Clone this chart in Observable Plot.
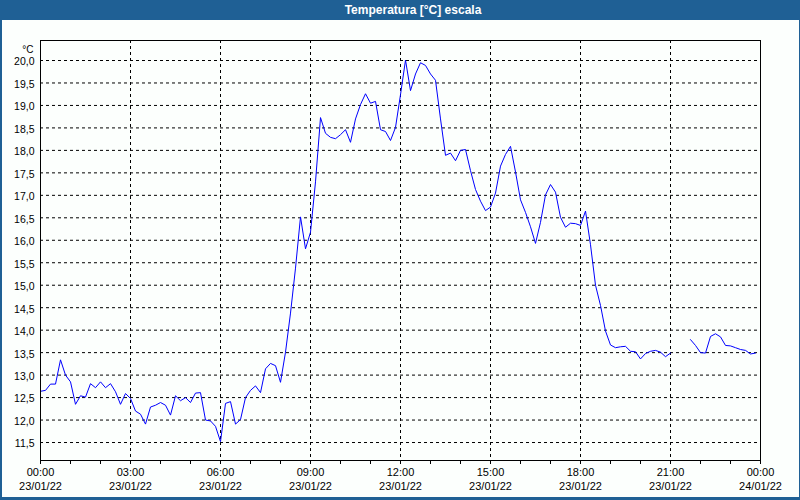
<!DOCTYPE html>
<html>
<head>
<meta charset="utf-8">
<script src="https://cdn.jsdelivr.net/npm/d3@7"></script>
<script src="https://cdn.jsdelivr.net/npm/@observablehq/plot@0.6"></script>
<style>
  html, body { margin: 0; padding: 0; background: #fcfffd; }
  #win { position: relative; width: 800px; height: 500px; background: #fcfffd; overflow: hidden; font-family: "Liberation Sans", Arial, sans-serif; }
  #titlebar { position: absolute; left: 0; top: 0; width: 800px; height: 20px; background: #1f6095; }
  #title { position: absolute; left: 413px; top: 3px; transform: translateX(-50%); color: #ffffff; font-weight: bold; font-size: 12px; white-space: nowrap; font-family: "Liberation Sans", Arial, sans-serif; }
  #chart { position: absolute; left: 0; top: 20px; }
  .bd { position: absolute; background: #1f6095; }
</style>
</head>
<body>
<div id="win">
  <div id="titlebar"><div id="title">Temperatura [°C] escala</div></div>
  <div id="chart"></div>
  <div class="bd" style="left:0;top:20px;width:2px;height:480px"></div>
  <div class="bd" style="right:0;top:20px;width:1px;height:480px"></div>
  <div class="bd" style="left:0;bottom:0;width:800px;height:3px"></div>
</div>
<script>
// ---- data (10-minute samples starting 23/01/22 00:00) ----
const startTime = Date.UTC(2022, 0, 23, 0, 0);
const stepMinutes = 10;
const temperature = [
  12.64, 12.66, 12.80, 12.80, 13.34, 13.00, 12.85, 12.35, 12.54, 12.51,
  12.81, 12.72, 12.85, 12.72, 12.81, 12.63, 12.35, 12.59, 12.48, 12.20,
  12.13, 11.91, 12.29, 12.33, 12.39, 12.33, 12.11, 12.54, 12.43, 12.50,
  12.39, 12.60, 12.61, 12.00, 11.98, 11.86, 11.52, 12.37, 12.41, 11.91,
  12.01, 12.50, 12.66, 12.76, 12.61, 13.14, 13.26, 13.21, 12.84, 13.51,
  14.38, 15.38, 16.52, 15.81, 16.18, 17.30, 18.73, 18.38, 18.29, 18.26,
  18.35, 18.46, 18.18, 18.70, 19.02, 19.26, 19.05, 19.09, 18.46, 18.42,
  18.22, 18.51, 19.24, 20.01, 19.33, 19.70, 19.95, 19.89, 19.70, 19.56,
  18.70, 17.89, 17.94, 17.77, 18.00, 18.02, 17.55, 17.13, 16.87, 16.66,
  16.74, 17.05, 17.65, 17.91, 18.09, 17.52, 16.90, 16.62, 16.30, 15.93,
  16.40, 17.01, 17.24, 17.07, 16.51, 16.29, 16.38, 16.37, 16.33, 16.65,
  15.90, 15.00, 14.55, 13.98, 13.67, 13.61, 13.63, 13.64, 13.53, 13.52,
  13.36, 13.48, 13.53, 13.55, 13.51, 13.41, 13.49, null, null, null,
  13.79, 13.66, 13.50, 13.49, 13.86, 13.92, 13.85, 13.66, 13.65, 13.61,
  13.57, 13.55, 13.47, 13.49
];

// ---- axes ----
const yTicks = [11.5, 12, 12.5, 13, 13.5, 14, 14.5, 15, 15.5, 16, 16.5, 17, 17.5, 18, 18.5, 19, 19.5, 20];
const yTickLabels = ["11,5", "12,0", "12,5", "13,0", "13,5", "14,0", "14,5", "15,0", "15,5", "16,0", "16,5", "17,0", "17,5", "18,0", "18,5", "19,0", "19,5", "20,0"];
const yUnit = "°C";
const yDomain = [11.1, 20.445];
const xLabelHours = ["00:00", "03:00", "06:00", "09:00", "12:00", "15:00", "18:00", "21:00", "00:00"];
const xLabelDates = ["23/01/22", "23/01/22", "23/01/22", "23/01/22", "23/01/22", "23/01/22", "23/01/22", "23/01/22", "24/01/22"];
const xLabelStepHours = 3;

const HOUR = 3600000;
const xDomain = [new Date(startTime), new Date(startTime + 24 * HOUR)];
const labelTimes = xLabelHours.map((_, i) => new Date(startTime + i * xLabelStepHours * HOUR));
const gridTimes = labelTimes.slice(1, -1);
const hourTimes = d3.utcHour.range(xDomain[0], new Date(+xDomain[1] + 1));

const data = temperature.map((v, i) => ({ time: new Date(startTime + i * stepMinutes * 60000), temp: v }));

const chart = Plot.plot({
  width: 800,
  height: 480,
  marginLeft: 40,
  marginRight: 40,
  marginTop: 20,
  marginBottom: 40,
  style: { background: "transparent", color: "#000", fontFamily: "Liberation Sans, Arial, sans-serif", overflow: "visible" },
  x: { type: "utc", domain: xDomain },
  y: { domain: yDomain },
  marks: [
    Plot.ruleY(yTicks, { stroke: "#000", strokeWidth: 1, strokeDasharray: "3,3" }),
    Plot.ruleX(gridTimes, { stroke: "#000", strokeWidth: 1, strokeDasharray: "3,3" }),
    Plot.line(data, { x: "time", y: "temp", stroke: "#0000ff", strokeWidth: 1 }),
    Plot.frame({ stroke: "#000", strokeWidth: 1 }),
    Plot.axisX(hourTimes, { tickSize: 4, tickFormat: () => "", label: null, stroke: "#000" }),
    Plot.text(labelTimes, { x: d => d, text: (d, i) => xLabelHours[i], frameAnchor: "bottom", dy: 15, fontSize: 11, fill: "#000" }),
    Plot.text(labelTimes, { x: d => d, text: (d, i) => xLabelDates[i], frameAnchor: "bottom", dy: 29.5, fontSize: 11, fill: "#000" }),
    Plot.axisY(yTicks, { tickSize: 0, tickPadding: 6, tickFormat: d => yTickLabels[yTicks.indexOf(d)], label: null, fontSize: 10.5, fill: "#000", dy: 1.5 }),
    Plot.text([yUnit], { text: d => d, frameAnchor: "top-left", textAnchor: "end", dx: -7, dy: 5, fontSize: 10, fill: "#000" })
  ]
});
document.getElementById("chart").appendChild(chart);
</script>
</body>
</html>
